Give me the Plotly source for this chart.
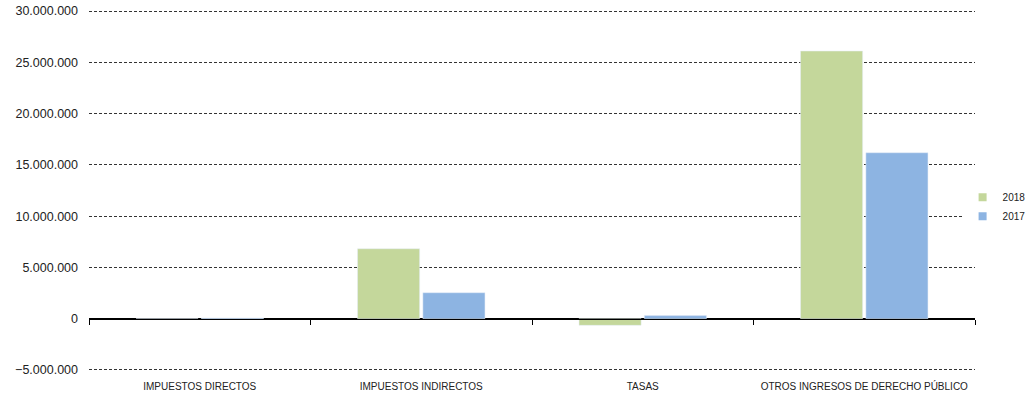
import plotly.graph_objects as go

categories = ["IMPUESTOS DIRECTOS", "IMPUESTOS INDIRECTOS", "TASAS", "OTROS INGRESOS DE DERECHO PÚBLICO"]
values_2018 = [0, 6820000, -650000, 26100000]
values_2017 = [60000, 2530000, 300000, 16180000]
y_ticks = [-5000000, 0, 5000000, 10000000, 15000000, 20000000, 25000000, 30000000]
series_names = ["2018", "2017"]

green = "#c4d79b"
blue = "#8db4e2"

fig = go.Figure()
fig.add_trace(go.Bar(name=series_names[0], x=categories, y=values_2018, marker_color=green, showlegend=False))
fig.add_trace(go.Bar(name=series_names[1], x=categories, y=values_2017, marker_color=blue, showlegend=False))
# legend entries with small square swatches
for nm, col in zip(series_names, [green, blue]):
    fig.add_trace(go.Scatter(x=[None], y=[None], mode="markers", name=nm,
                             marker=dict(symbol="square", size=8, color=col)))
# invisible trace for the axis drawn at zero
fig.add_trace(go.Scatter(x=categories, y=[0]*len(categories), xaxis="x2", yaxis="y",
                         mode="markers", marker=dict(opacity=0), showlegend=False, hoverinfo="skip"))

y_range = [-5200000, 30200000]
zero_pos = (0 - y_range[0]) / (y_range[1] - y_range[0])

fig.update_layout(
    width=1028, height=398,
    margin=dict(l=89, r=53, t=9, b=26, autoexpand=False),
    paper_bgcolor="white", plot_bgcolor="white",
    separators=",.",
    barmode="group", bargap=0.41, bargroupgap=0.05,
    font=dict(family="Liberation Sans, Arial", color="#222"),
    legend=dict(x=0.986, y=0.455, yanchor="middle", xanchor="left",
                font=dict(size=10), itemwidth=30, tracegroupgap=0),
    xaxis=dict(showline=False, ticks="", showgrid=False, zeroline=False,
               tickfont=dict(size=10), range=[-0.5, 3.5], automargin=False,
               ticklabelstandoff=7),
    xaxis2=dict(overlaying="x", matches="x", anchor="free", position=zero_pos,
                showline=True, linecolor="black", linewidth=1, ticks="outside",
                tickson="boundaries", ticklen=5, tickcolor="black",
                showticklabels=False, showgrid=False, zeroline=False, automargin=False),
    yaxis=dict(range=y_range, tickvals=y_ticks, tickformat=",d",
               showgrid=True, gridcolor="#333", griddash="3px,2px", gridwidth=1,
               zeroline=True, zerolinecolor="black", zerolinewidth=1,
               showline=False, ticks="", tickfont=dict(size=12.5, color="#222"),
               ticklabelstandoff=10, automargin=False, ticklabeloverflow="allow"),
)

fig.write_html("out.html", config={"displayModeBar": False},
               post_script="document.body.style.margin='0';")
